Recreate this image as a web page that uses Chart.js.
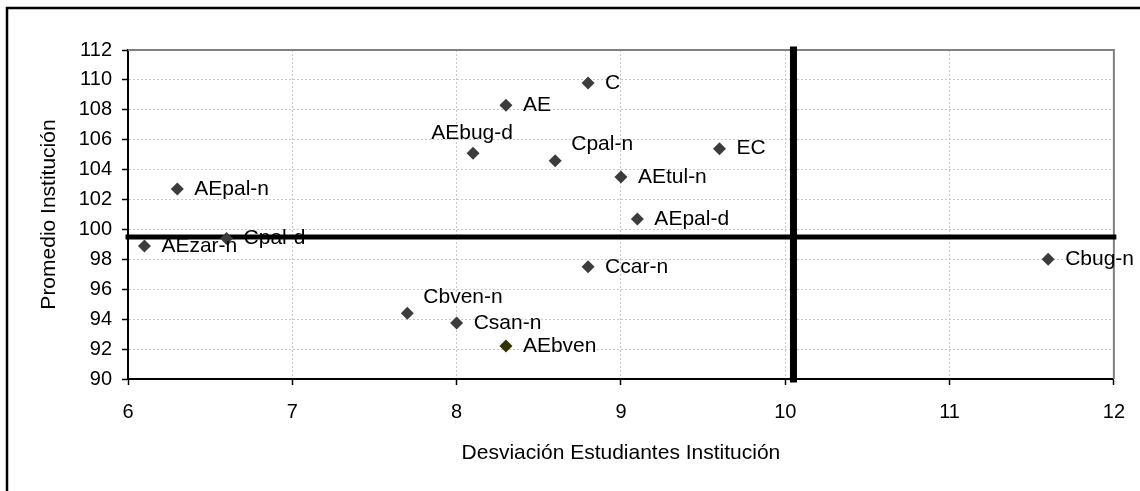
<!DOCTYPE html>
<html>
<head>
<meta charset="utf-8">
<script src="https://cdn.jsdelivr.net/npm/chart.js@4.4.1/dist/chart.umd.min.js"></script>
<style>
    html, body { margin: 0; padding: 0; background: #fff; }
    #contenedorDispersion { position: relative; width: 1140px; height: 491px; }
</style>
</head>
<body>
<div id="contenedorDispersion"><canvas id="graficoDispersion"></canvas></div>
<script>
// ===================================== Datos ==================
const instituciones = ['AEpal-n', 'AEzar-n', 'Cpal-d', 'AEbug-d', 'AE', 'C', 'Cpal-n', 'EC', 'AEtul-n', 'AEpal-d', 'Ccar-n', 'Cbven-n', 'Csan-n', 'AEbven', 'Cbug-n'];
const desviacion = [6.3, 6.1, 6.6, 8.1, 8.3, 8.8, 8.6, 9.6, 9.0, 9.1, 8.8, 7.7, 8.0, 8.3, 11.6];
const promedio = [102.7, 98.9, 99.4, 105.1, 108.3, 109.8, 104.6, 105.4, 103.5, 100.7, 97.5, 94.4, 93.75, 92.2, 98.0];

// lineas de referencia (promedio general y desviacion general)
const promedioGeneral = 99.5;
const desviacionGeneral = 10.05;

const ticksX = [6, 7, 8, 9, 10, 11, 12];
const ticksY = [90, 92, 94, 96, 98, 100, 102, 104, 106, 108, 110, 112];

// donde va cada etiqueta (por defecto a la derecha)
const ubicacionEtiqueta = { 'AEbug-d': 'arriba', 'Cpal-n': 'arribaDerecha', 'Cbven-n': 'arribaDerecha' };

const fuente = '"Liberation Sans", Arial, sans-serif';

// ===================================== Plugin: marco y etiquetas ==================
const pluginMarco = {
    id: 'marco',
    beforeDraw(chart) {
        const ctx = chart.ctx;
        ctx.save();
        ctx.strokeStyle = '#000';
        ctx.lineWidth = 2.5;
        ctx.beginPath();
        ctx.moveTo(7, chart.height);
        ctx.lineTo(7, 8);
        ctx.lineTo(chart.width, 8);
        ctx.stroke();
        ctx.restore();
    },
    beforeDatasetsDraw(chart) {
        const ctx = chart.ctx;
        const a = chart.chartArea;
        ctx.save();
        ctx.strokeStyle = '#808080';
        ctx.lineWidth = 2;
        ctx.beginPath();
        ctx.moveTo(a.left, a.top);
        ctx.lineTo(a.right, a.top);
        ctx.lineTo(a.right, a.bottom);
        ctx.stroke();
        ctx.restore();
    },
    afterDatasetsDraw(chart) {
        const ctx = chart.ctx;
        const puntos = chart.getDatasetMeta(0).data;
        ctx.save();
        ctx.font = '21px ' + fuente;
        ctx.fillStyle = '#000';
        ctx.textBaseline = 'middle';
        puntos.forEach((p, i) => {
            const nombre = instituciones[i];
            const ubic = ubicacionEtiqueta[nombre] || 'derecha';
            if (ubic === 'arriba') {
                ctx.textAlign = 'center';
                ctx.fillText(nombre, p.x - 1, p.y - 20);
            } else if (ubic === 'arribaDerecha') {
                ctx.textAlign = 'left';
                ctx.fillText(nombre, p.x + 16, p.y - 16);
            } else {
                ctx.textAlign = 'left';
                ctx.fillText(nombre, p.x + 17, p.y);
            }
        });
        ctx.restore();
    }
};

// ===================================== Grafico ==================
const colores = instituciones.map(n => n === 'AEbven' ? '#333300' : '#3c3c3c');

const ejeComun = {
    grid: { color: '#c8c8c8', lineWidth: 1, tickColor: '#000', tickLength: 6, tickWidth: 1.5 },
    border: { color: '#000', width: 2, dash: [2, 2] }
};

new Chart(document.getElementById('graficoDispersion'), {
    type: 'scatter',
    data: {
        datasets: [
            {
                label: 'Instituciones',
                data: desviacion.map((x, i) => ({ x: x, y: promedio[i] })),
                pointStyle: 'rectRot',
                pointRadius: 6.5,
                pointHoverRadius: 6.5,
                pointBackgroundColor: colores,
                pointBorderWidth: 0,
                order: 1
            },
            {
                type: 'line',
                label: 'Promedio general',
                data: [{ x: ticksX[0], y: promedioGeneral }, { x: ticksX[ticksX.length - 1], y: promedioGeneral }],
                borderColor: '#000',
                borderWidth: 5,
                borderCapStyle: 'square',
                pointRadius: 0,
                clip: false,
                order: 2
            },
            {
                type: 'line',
                label: 'Desviacion general',
                data: [{ x: desviacionGeneral, y: ticksY[0] }, { x: desviacionGeneral, y: ticksY[ticksY.length - 1] }],
                borderColor: '#000',
                borderWidth: 7,
                borderCapStyle: 'square',
                pointRadius: 0,
                clip: false,
                order: 2
            }
        ]
    },
    options: {
        responsive: true,
        maintainAspectRatio: false,
        animation: false,
        layout: { padding: { top: 50, right: 26, bottom: 0, left: 0 } },
        plugins: {
            legend: { display: false },
            tooltip: { enabled: false }
        },
        scales: {
            x: {
                type: 'linear',
                min: 6, max: 12,
                afterBuildTicks: s => { s.ticks = ticksX.map(v => ({ value: v })); },
                afterFit: s => { s.height = 112; },
                ...ejeComun,
                ticks: { font: { family: fuente, size: 20 }, color: '#000', padding: 15, maxRotation: 0 },
                title: { display: true, text: 'Desviación Estudiantes Institución', color: '#000', font: { family: fuente, size: 21 }, padding: { top: 0, bottom: 25 } }
            },
            y: {
                min: 90, max: 112,
                afterBuildTicks: s => { s.ticks = ticksY.map(v => ({ value: v })); },
                afterFit: s => { s.width = 128; },
                ...ejeComun,
                ticks: { font: { family: fuente, size: 20 }, color: '#000', padding: 10 },
                title: { display: true, text: 'Promedio Institución', color: '#000', font: { family: fuente, size: 21 }, padding: { top: 37, bottom: 0 } }
            }
        }
    },
    plugins: [pluginMarco]
});
</script>
</body>
</html>
